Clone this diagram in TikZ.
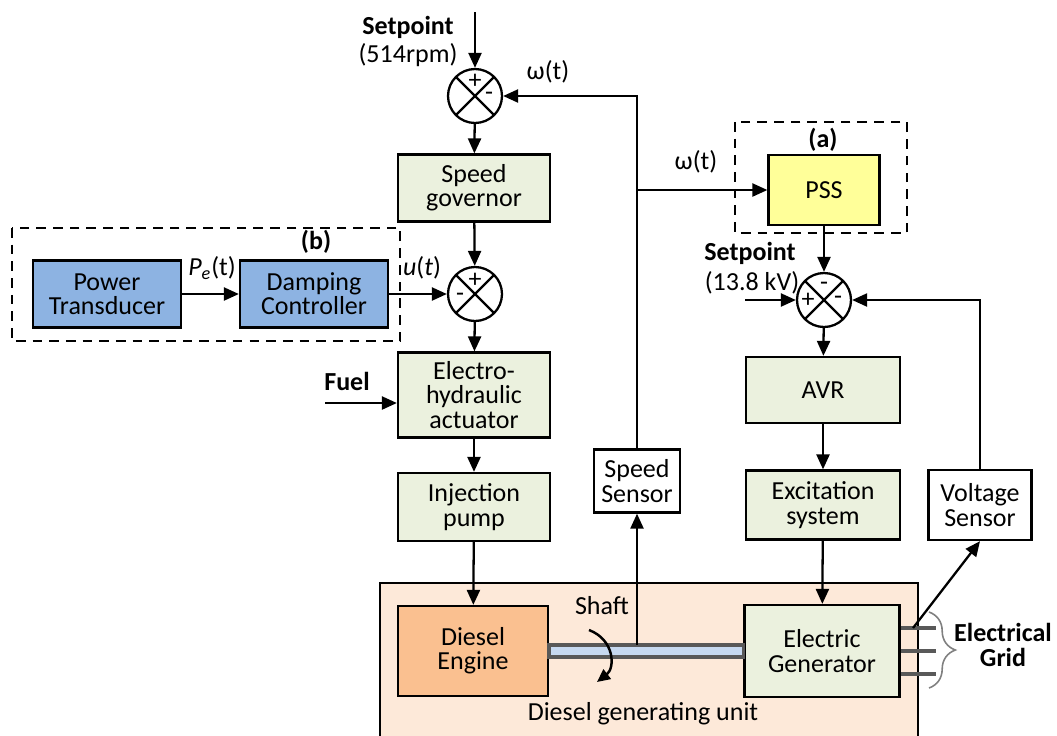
\documentclass[tikz,border=0pt]{standalone}
\usepackage{fontspec}
\setmainfont{Carlito}
\usepackage{tikz}
\usetikzlibrary{positioning, arrows.meta, calc, decorations.pathreplacing}

\definecolor{blkgreen}{RGB}{235,241,222}
\definecolor{ctrlblue}{RGB}{141,179,226}
\definecolor{engorange}{RGB}{250,192,144}
\definecolor{unitpeach}{RGB}{253,233,217}
\definecolor{pssyellow}{RGB}{255,255,153}
\definecolor{shaftblue}{RGB}{198,217,241}
\definecolor{shaftgrey}{RGB}{89,89,89}

\newcommand{\blkfont}{\fontsize{14.8}{13.8}\selectfont}

\begin{document}
\begin{tikzpicture}[
  x=0.02cm, y=-0.02cm,
  >={Triangle[length=3mm, width=2.6mm]},
  blk/.style={draw, line width=1.3pt, fill=blkgreen, minimum width=3.04cm, minimum height=1.34cm, inner sep=1pt, align=center, font=\blkfont},
  ctrl/.style={blk, fill=ctrlblue, minimum width=2.96cm},
  sensor/.style={blk, fill=white, minimum width=1.72cm, minimum height=1.26cm},
  sumj/.style={circle, draw, line width=1.3pt, fill=white, minimum size=1.08cm, inner sep=0pt,
    path picture={\draw[line width=1.3pt] (path picture bounding box.north west) -- (path picture bounding box.south east)
      (path picture bounding box.north east) -- (path picture bounding box.south west);}},
  sgn/.style={font=\blkfont, inner sep=0pt},
  lbl/.style={font=\blkfont, align=center, inner sep=1pt},
  blbl/.style={lbl, font=\blkfont\bfseries},
  conn/.style={->, line width=1.3pt},
  grpbox/.style={draw, line width=1.3pt, dash pattern=on 5.5pt off 4pt}
]
\useasboundingbox (0,0) rectangle (1057,735);

% Diesel generating unit (background)
\filldraw[fill=unitpeach, line width=1.3pt] (380,740) -- (380,583) -- (918,583) -- (918,740);
\node[lbl] (unitlbl) at (643,714) {Diesel generating unit};

% Speed loop
\coordinate (setp1) at (475,12);
\node[blbl] (setp1lbl) at (408,27) {Setpoint};
\node[lbl] (setp1val) at (408,55) {(514rpm)};
\node[sumj] (s1) at (475,96) {};
\node[sgn] (s1p) at ($(s1)+(0,-15)$) {+};
\node[sgn] (s1m) at ($(s1)+(14,0)$) {-};
\node[lbl] (w1) at (548,72) {ω(t)};
\node[blk] (gov) at (474,188) {Speed\\governor};
\node[sumj] (s2) at (475,294) {};
\node[sgn] (s2p) at ($(s2)+(0,-14)$) {+};
\node[sgn] (s2m) at ($(s2)+(-15,3)$) {-};
\node[blk, minimum height=1.7cm] (act) at (474,395) {Electro-\\hydraulic\\actuator};
\node[blk, minimum height=1.36cm] (pump) at (474,507) {Injection\\pump};
\coordinate (fuel) at (325,403);
\node[blbl] (fuellbl) at (347,381) {Fuel};

% Damping controller (b)
\draw[grpbox] (12,228) rectangle (400,341);
\node[blbl] (blbl) at (316,242) {(b)};
\node[ctrl] (pt) at (107,294) {Power\\Transducer};
\node[ctrl] (dc) at (314,294) {Damping\\Controller};
\node[lbl] (pe) at (212,268) {\textit{P}\textsubscript{\textit{e}}(t)};
\node[lbl] (ut) at (422,268) {\textit{u}(\textit{t})};

% Engine, shaft and generator
\node[blk, fill=engorange, minimum width=3cm, minimum height=1.8cm] (eng) at (473,651) {Diesel\\Engine};
\node[blk, minimum width=3.1cm, minimum height=1.84cm] (gen) at (822,651) {Electric\\Generator};
\filldraw[fill=shaftblue, draw=shaftgrey, line width=2pt] ($(eng.east)+(0,-6)$) rectangle ($(gen.west)+(0,6)$);
\node[lbl] (shaftlbl) at (602,606) {Shaft};
\draw[->, line width=1.4pt, >={Triangle[length=2.6mm, width=2.4mm]}] (589,630) .. controls (615,640) and (615,668) .. (597,682);
\coordinate (tap1) at (637,645);
\node[sensor] (spd) at (637,481) {Speed\\Sensor};

% Voltage loop (a)
\draw[grpbox] (735,122) rectangle (907,233);
\node[blbl] (albl) at (823,140) {(a)};
\node[blk, fill=pssyellow, minimum width=2.22cm, minimum height=1.4cm] (pss) at (824,190) {PSS};
\node[lbl] (w2) at (696,162) {ω(t)};
\node[sumj] (s3) at (824,300) {};
\node[sgn] (s3t) at ($(s3)+(0,-14)$) {-};
\node[sgn] (s3p) at ($(s3)+(-16,0)$) {+};
\node[sgn] (s3m) at ($(s3)+(14,0)$) {-};
\coordinate (setp2) at (745,300);
\node[blbl] (setp2lbl) at (750,253) {Setpoint};
\node[lbl] (setp2val) at (752,283) {(13.8 kV)};
\node[blk, minimum width=3.08cm, minimum height=1.32cm] (avr) at (823,390) {AVR};
\node[blk, minimum width=3.08cm, minimum height=1.38cm] (exc) at (823,505) {Excitation\\system};
\node[sensor, minimum width=2.06cm, minimum height=1.4cm] (vs) at (980,505) {Voltage\\Sensor};

% Electrical grid
\foreach \dy in {-23,0,23} {
  \draw[shaftgrey, line width=2.4pt] ($(gen.east)+(0,\dy)$) -- ++(35,0);
}
\draw[gray, line width=0.9pt, decorate, decoration={brace, amplitude=15pt, aspect=0.5}] (929,612) -- (929,688);
\node[blbl] (gridlbl) at (1003,645) {Electrical\\Grid};
\coordinate (tap2) at (913,628);

% Connectors
\draw[conn] (setp1) -- (s1);
\draw[conn] (s1) -- (gov);
\draw[conn] (gov) -- (s2);
\draw[conn] (s2) -- (act);
\draw[conn] (act) -- (pump);
\draw[conn] (pump) -- (eng);
\draw[conn] (fuel) -- (fuel -| act.west);
\draw[conn] (pt) -- (dc);
\draw[conn] (dc) -- (s2);
\draw[conn] (tap1) -- (spd);
\draw[conn] (spd.north) |- (s1.east);
\draw[conn] (spd.north |- pss.west) -- (pss.west);
\draw[conn] (pss) -- (s3);
\draw[conn] (setp2) -- (s3.west);
\draw[conn] (vs.north) |- (s3.east);
\draw[conn] (s3) -- (avr);
\draw[conn] (avr) -- (exc);
\draw[conn] (exc) -- (gen);
\draw[conn] (tap2) -- (vs.south);

\end{tikzpicture}
\end{document}
